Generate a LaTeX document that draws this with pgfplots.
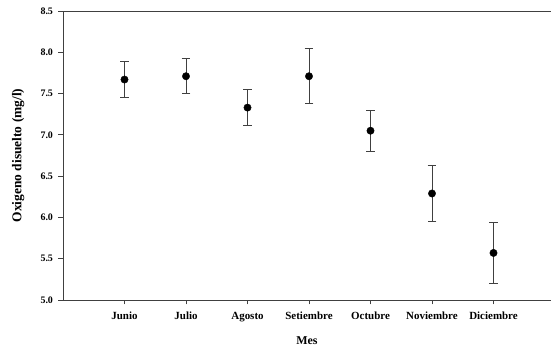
\documentclass[border=0pt]{standalone}
\usepackage{pgfplots}
\pgfplotsset{compat=1.18}
\usepackage{fontspec}
\setmainfont{Liberation Serif}
\begin{document}
\begin{tikzpicture}
\useasboundingbox (0,0) rectangle (551bp,347bp);
\begin{axis}[
  at={(63bp,47bp)}, anchor=south west,
  scale only axis, width=488bp, height=289bp,
  xmin=0, xmax=7.935, ymin=5.0, ymax=8.5,
  axis x line*=bottom, axis y line*=left,
  axis line style={draw=black!75, line width=0.9pt, -},
  tick style={draw=black!75, line width=0.8pt},
  tick align=outside, major tick length=4.5bp,
  xtick={1,2,3,4,5,6,7},
  xticklabels={Junio,Julio,Agosto,Setiembre,Octubre,Noviembre,Diciembre},
  ytick={5.0,5.5,6.0,6.5,7.0,7.5,8.0,8.5},
  /pgf/number format/assume math mode=true,
  yticklabel style={/pgf/number format/fixed,/pgf/number format/fixed zerofill,/pgf/number format/precision=1, font=\fontsize{10}{11}\selectfont\bfseries, xshift=-2bp},
  xticklabel style={font=\fontsize{11}{12}\selectfont\bfseries, yshift=-4bp},
  ylabel={Oxigeno disuelto (mg/l)},
  xlabel={Mes},
  ylabel style={font=\fontsize{13.5}{15}\selectfont\bfseries, at={(axis description cs:-0.092,0.5)}, anchor=center},
  xlabel style={font=\fontsize{12}{14}\selectfont\bfseries, at={(axis description cs:0.5,0)}, yshift=-33bp, anchor=north},
  clip=false,
]
\draw[black!75, line width=0.9pt] (rel axis cs:0,1) -- (rel axis cs:1.01,1);
\addplot[only marks, mark=*, mark size=3.7pt, black,
  error bars/.cd, y dir=both, y explicit,
  error bar style={black!75, line width=1pt},
  error mark options={black!75, line width=1pt, mark size=4.5pt, rotate=90}]
coordinates {
  (1,7.67) +- (0,0.22)
  (2,7.71) +- (0,0.21)
  (3,7.33) +- (0,0.22)
  (4,7.71) +- (0,0.33)
  (5,7.05) +- (0,0.25)
  (6,6.29) +- (0,0.34)
  (7,5.57) +- (0,0.37)
};
\end{axis}
\end{tikzpicture}
\end{document}
